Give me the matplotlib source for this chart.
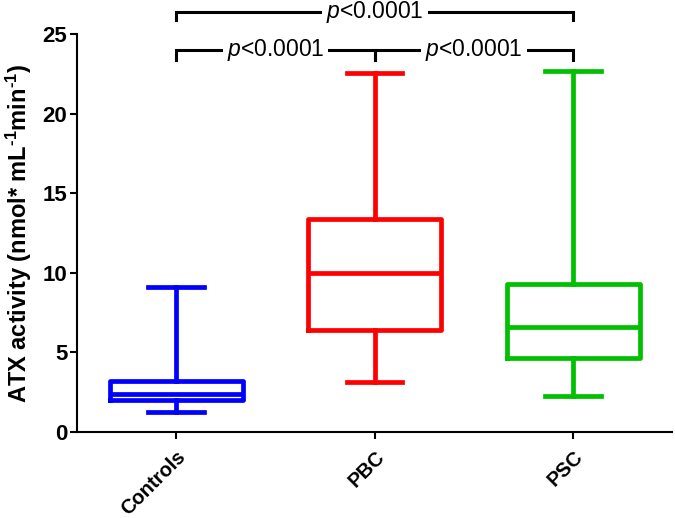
import matplotlib
matplotlib.use("Agg")
import matplotlib.pyplot as plt

plt.rcParams["font.family"] = ["Liberation Sans", "DejaVu Sans"]
plt.rcParams["mathtext.fontset"] = "custom"
plt.rcParams["mathtext.rm"] = "Liberation Sans"
plt.rcParams["mathtext.it"] = "Liberation Sans:italic"
plt.rcParams["mathtext.bf"] = "Liberation Sans:bold"

# min-max whisker box plot values
groups = ["Controls", "PBC", "PSC"]
mins = [1.25, 3.15, 2.26]
q1s = [2.0, 6.4, 4.65]
medians = [2.4, 10.0, 6.6]
q3s = [3.2, 13.4, 9.3]
maxs = [9.1, 22.55, 22.7]
colors = ["#0000ff", "#ff0000", "#00c000"]

# significance comparisons (group index pairs)
pairs = [(0, 2), (0, 1), (1, 2)]
p_labels = ["$p$<0.0001", "$p$<0.0001", "$p$<0.0001"]

fig = plt.figure(figsize=(6.75, 5.18), dpi=100)
ax = fig.add_axes([0.114, 0.166, 0.882, 0.768])

lw = 3.4
for i, g in enumerate(groups):
    stats = [{"med": medians[i], "q1": q1s[i], "q3": q3s[i],
              "whislo": mins[i], "whishi": maxs[i], "fliers": [], "label": g}]
    c = colors[i]
    ax.bxp(stats, positions=[i], widths=0.67, showfliers=False,
           boxprops=dict(color=c, linewidth=lw, solid_joinstyle="round"),
           medianprops=dict(color=c, linewidth=lw),
           whiskerprops=dict(color=c, linewidth=lw),
           capprops=dict(color=c, linewidth=lw),
           capwidths=0.28, manage_ticks=False)

ax.set_xlim(-0.5, 2.5)
ax.set_ylim(0, 25)
ax.set_yticks([0, 5, 10, 15, 20, 25])
ax.set_xticks(range(len(groups)))
ax.set_xticklabels(groups, rotation=45, ha="right", rotation_mode="anchor",
                   fontsize=14.5, fontweight="bold")
for lab in ax.get_yticklabels():
    lab.set_fontsize(16)
    lab.set_fontweight("bold")
ax.set_ylabel("ATX activity (nmol* mL$^{\\mathbf{\u20101}}$min$^{\\mathbf{\u20101}}$)",
              fontsize=17, fontweight="bold", labelpad=6)

for s in ["top", "right"]:
    ax.spines[s].set_visible(False)
for s in ["left", "bottom"]:
    ax.spines[s].set_linewidth(1.5)
ax.tick_params(width=1.5, length=5, direction="out", pad=2)
ax.tick_params(axis="x", pad=6)

# brackets
blw = 2.2
top_y, top_tick = 26.4, 25.9
low_y, low_tick = 24.0, 23.4
a, b = pairs[0]
ax.plot([a, a, b, b], [top_tick, top_y, top_y, top_tick], color="black",
        lw=blw, clip_on=False, solid_joinstyle="miter")
ax.text((a + b) / 2, top_y, p_labels[0], ha="center", va="center", fontsize=16.5,
        bbox=dict(facecolor="white", edgecolor="none", pad=3), clip_on=False)
for k, (a, b) in enumerate(pairs[1:], start=1):
    ax.plot([a, a, b, b], [low_tick, low_y, low_y, low_tick], color="black",
            lw=blw, clip_on=False, solid_joinstyle="miter")
    ax.text((a + b) / 2, low_y, p_labels[k], ha="center", va="center", fontsize=16.5,
            bbox=dict(facecolor="white", edgecolor="none", pad=3), clip_on=False)

fig.savefig("out.png", dpi=100)
